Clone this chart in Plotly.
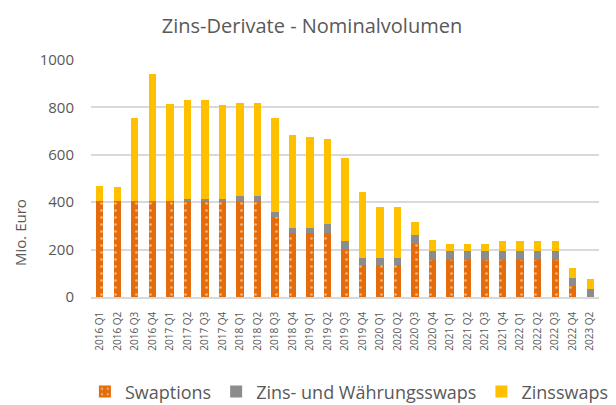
import plotly.graph_objects as go

categories = ["2016 Q1", "2016 Q2", "2016 Q3", "2016 Q4",
              "2017 Q1", "2017 Q2", "2017 Q3", "2017 Q4",
              "2018 Q1", "2018 Q2", "2018 Q3", "2018 Q4",
              "2019 Q1", "2019 Q2", "2019 Q3", "2019 Q4",
              "2020 Q1", "2020 Q2", "2020 Q3", "2020 Q4",
              "2021 Q1", "2021 Q2", "2021 Q3", "2021 Q4",
              "2022 Q1", "2022 Q2", "2022 Q3", "2022 Q4",
              "2023 Q2"]

swaptions = [403, 403, 403, 403, 403, 403, 403, 403, 403, 403,
             339, 268, 268, 268, 204, 134, 134, 134, 225, 155,
             155, 155, 155, 155, 155, 155, 155, 48, 0]

zins_waehrung = [0, 0, 0, 0, 0, 10, 10, 10, 23, 23,
                 21, 22, 22, 38, 32, 32, 32, 32, 38, 38,
                 38, 38, 38, 38, 38, 38, 38, 31, 32]

zinsswaps = [66, 60, 351, 536, 411, 418, 418, 397, 394, 394,
             394, 394, 384, 362, 351, 275, 213, 213, 55, 49,
             31, 31, 31, 43, 43, 43, 43, 44, 42]

y_title = "Mio. Euro"
chart_title = "Zins-Derivate - Nominalvolumen"

font_family = "Open Sans, Liberation Sans, sans-serif"
text_color = "#595959"

fig = go.Figure()
fig.add_trace(go.Bar(
    x=categories, y=swaptions, name="Swaptions",
    marker=dict(color="#E46C0A", line=dict(width=0),
                pattern=dict(shape=".", fgcolor="white", bgcolor="#E46C0A",
                             size=7, solidity=0.12)),
))
fig.add_trace(go.Bar(
    x=categories, y=zins_waehrung, name="Zins- und Währungsswaps",
    marker=dict(color="#8C8C8C", line=dict(width=0)),
))
fig.add_trace(go.Bar(
    x=categories, y=zinsswaps, name="Zinsswaps",
    marker=dict(color="#FFC000", line=dict(width=0)),
))

fig.add_annotation(
    text=y_title, textangle=-90, showarrow=False,
    xref="paper", yref="paper", x=-0.14, y=0.274,
    xanchor="center", yanchor="middle",
    font=dict(size=15, color=text_color),
)

fig.update_layout(
    barmode="stack",
    bargap=0.58,
    width=616, height=405,
    margin=dict(l=83, r=25, t=52, b=116, autoexpand=False),
    paper_bgcolor="white", plot_bgcolor="white",
    font=dict(family=font_family, color=text_color),
    title=dict(text=chart_title,
               x=0.4935, xanchor="center", y=0.955, yanchor="middle",
               font=dict(size=20, color=text_color)),
    xaxis=dict(tickangle=-90, tickfont=dict(size=10, color=text_color),
               showline=True, linecolor="#D9D9D9", linewidth=1.5,
               ticks="", showgrid=False, ticklabelstandoff=9),
    yaxis=dict(range=[0, 1000], dtick=200, showgrid=True,
               gridcolor="#D9D9D9", gridwidth=1.5, zeroline=False,
               tickfont=dict(size=15, color=text_color),
               ticks="", ticklabelstandoff=16),
    legend=dict(orientation="h", xref="paper", x=-0.012, xanchor="left",
                y=-0.40, yanchor="middle",
                font=dict(size=18, color=text_color),
                itemwidth=30, traceorder="normal"),
)

fig.write_html("out.html")
